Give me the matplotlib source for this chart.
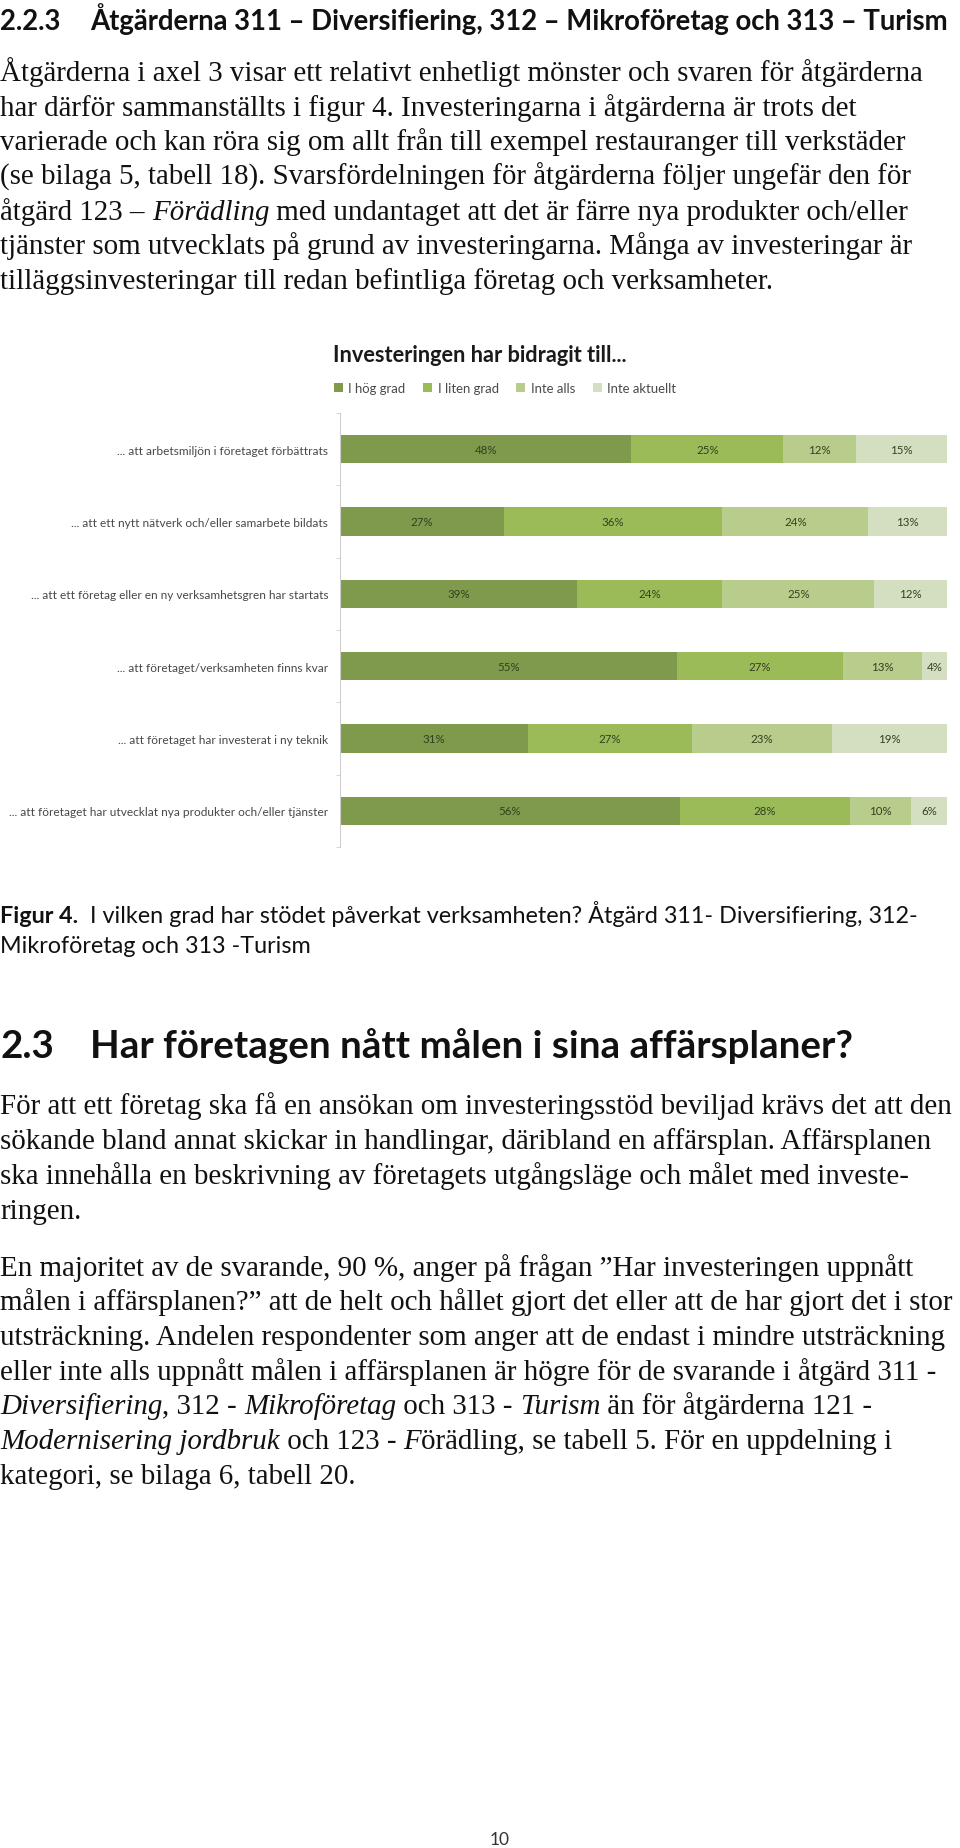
import numpy as np
import matplotlib
matplotlib.use('Agg')
import matplotlib.pyplot as plt

W, H = 960, 1849
DPI = 100
SERIF = ['Liberation Serif', 'DejaVu Serif']
SANS = ['Lato', 'DejaVu Sans']

# --- chart data (figur 4) ---
categories = [
    '... att arbetsmiljön i företaget förbättrats',
    '... att ett nytt nätverk och/eller samarbete bildats',
    '... att ett företag eller en ny verksamhetsgren har startats',
    '... att företaget/verksamheten finns kvar',
    '... att företaget har investerat i ny teknik',
    '... att företaget har utvecklat nya produkter och/eller tjänster',
]
series_names = ['I hög grad', 'I liten grad', 'Inte alls', 'Inte aktuellt']
hog_grad = [48, 27, 39, 55, 31, 56]
liten_grad = [25, 36, 24, 27, 27, 28]
inte_alls = [12, 24, 25, 13, 23, 10]
inte_aktuellt = [15, 13, 12, 4, 19, 6]
colors = ['#7f9a4c', '#9bbb59', '#b8cc8c', '#d3dfc0']
chart_title = 'Investeringen har bidragit till...'

# --- page text ---
heading1 = ('2.2.3', 'Åtgärderna 311 – Diversifiering, 312 – Mikroföretag och 313 – Turism')
para1 = [
    [('Åtgärderna i axel 3 visar ett relativt enhetligt mönster och svaren för åtgärderna', 'n')],
    [('har därför sammanställts i figur 4. Investeringarna i åtgärderna är trots det', 'n')],
    [('varierade och kan röra sig om allt från till exempel restauranger till verkstäder', 'n')],
    [('(se bilaga 5, tabell 18). Svarsfördelningen för åtgärderna följer ungefär den för', 'n')],
    [('åtgärd 123 – ', 'n'), ('Förädling', 'i'),
     (' med undantaget att det är färre nya produkter och/eller', 'n')],
    [('tjänster som utvecklats på grund av investeringarna. Många av investeringar är', 'n')],
    [('tilläggsinvesteringar till redan befintliga företag och verksamheter.', 'n')],
]
para1_y = [72, 107, 141, 176, 211, 245, 280]
caption = [
    [('Figur 4.', 'b'), ('  I vilken grad har stödet påverkat verksamheten? Åtgärd 311- Diversifiering, 312-', 'n')],
    [('Mikroföretag och 313 -Turism', 'n')],
]
caption_y = [915, 945]
heading2 = ('2.3', 'Har företagen nått målen i sina affärsplaner?')
para2 = [
    [('För att ett företag ska få en ansökan om investeringsstöd beviljad krävs det att den', 'n')],
    [('sökande bland annat skickar in handlingar, däribland en affärsplan. Affärsplanen', 'n')],
    [('ska innehålla en beskrivning av företagets utgångsläge och målet med investe-', 'n')],
    [('ringen.', 'n')],
    [('En majoritet av de svarande, 90 %, anger på frågan ”Har investeringen uppnått', 'n')],
    [('målen i affärsplanen?” att de helt och hållet gjort det eller att de har gjort det i stor', 'n')],
    [('utsträckning. Andelen respondenter som anger att de endast i mindre utsträckning', 'n')],
    [('eller inte alls uppnått målen i affärsplanen är högre för de svarande i åtgärd 311 -', 'n')],
    [('Diversifiering', 'i'), (', 312 - ', 'n'), ('Mikroföretag', 'i'), (' och 313 - ', 'n'),
     ('Turism', 'i'), (' än för åtgärderna 121 -', 'n')],
    [('Modernisering jordbruk', 'i'), (' och 123 - ', 'n'), ('F', 'i'),
     ('örädling, se tabell 5. För en uppdelning i', 'n')],
    [('kategori, se bilaga 6, tabell 20.', 'n')],
]
para2_y = [1105, 1140, 1175, 1210, 1267, 1301, 1336, 1371, 1405, 1440, 1475]

fig = plt.figure(figsize=(W / DPI, H / DPI), dpi=DPI, facecolor='white')
page = fig.add_axes([0, 0, 1, 1])
page.set_xlim(0, W)
page.set_ylim(H, 0)
page.axis('off')
renderer = fig.canvas.get_renderer()

STYLE = {'n': {}, 'i': {'fontstyle': 'italic'}, 'b': {'fontweight': 'bold'}}


def width_of(s, **kw):
    t = page.text(0, 0, s, **kw)
    w = t.get_window_extent(renderer).width
    t.remove()
    return w


def run_width(s, **kw):
    # pad with x so leading/trailing spaces count
    return width_of('x' + s + 'x', **kw) - width_of('xx', **kw)


def fit_size(s, target, **kw):
    return 10 * target / width_of(s, fontsize=10, **kw)


def line_width(parts, size, family):
    return sum(run_width(s, fontsize=size, family=family, **STYLE[st]) for s, st in parts)


def put_runs(x, base, parts, size, family, color='black'):
    for s, st in parts:
        kw = dict(fontsize=size, family=family, **STYLE[st])
        page.text(x, base, s, va='baseline', ha='left', color=color, **kw)
        x += run_width(s, **kw)


def px(pt):
    return pt * DPI / 72


# headings
h1_size = fit_size(heading1[1], 861, family=SANS, fontweight='bold')
for s, x in zip(heading1, [0, 90]):
    page.text(x, 20 + 0.36 * px(h1_size), s, fontsize=h1_size, family=SANS,
              fontweight='bold', va='baseline', color='#111111')

# body size: average fit over three measured lines
fits = [(para1[0], 934), (para2[0], 950), (para2[5], 953)]
body_size = np.mean([10 * t / line_width(p, 10, SERIF) for p, t in fits])
for line, yc in zip(para1, para1_y):
    put_runs(0, yc + 0.3 * px(body_size), line, body_size, SERIF, '#111111')

cap_size = 10 * 918 / line_width(caption[0], 10, SANS)
for line, yc in zip(caption, caption_y):
    put_runs(0, yc + 0.36 * px(cap_size), line, cap_size, SANS, '#111111')

h2_size = fit_size(heading2[1], 762, family=SANS, fontweight='bold')
for s, x in zip(heading2, [0, 90]):
    page.text(x, 1044 + 0.36 * px(h2_size), s, fontsize=h2_size, family=SANS,
              fontweight='bold', va='baseline', color='#111111')

for line, yc in zip(para2, para2_y):
    put_runs(0, yc + 0.3 * px(body_size), line, body_size, SERIF, '#111111')

page.text(500, 1840, '10', fontsize=12.5, family=SANS,
          ha='center', va='center', color='#333333')

# --- chart ---
title_size = fit_size(chart_title, 295, family=SANS, fontweight='bold')
page.text(333, 356, chart_title, fontsize=title_size, family=SANS,
          fontweight='bold', va='center', ha='left', color='#1a1a1a')

ax = fig.add_axes([340 / W, 1 - 848 / H, 607 / W, 434 / H])
data = np.array([hog_grad, liten_grad, inte_alls, inte_aktuellt], dtype=float)
share = data / data.sum(axis=0) * 100   # 100 % stacked
ypos = np.arange(len(categories))
left = np.zeros(len(categories))
for i in range(len(series_names)):
    ax.barh(ypos, share[i], left=left, height=0.39, color=colors[i],
            label=series_names[i])
    for j in range(len(categories)):
        ax.text(left[j] + share[i][j] / 2, ypos[j], f'{int(data[i][j])}%',
                ha='center', va='center', fontsize=8.3, family=SANS,
                color='#34401f')
    left += share[i]

ax.set_xlim(0, 100)
ax.set_ylim(len(categories) - 0.5, -0.5)
ax.set_xticks([])
lab_size = fit_size(categories[-1], 318, family=SANS)
ax.set_yticks(ypos)
ax.set_yticklabels(categories, fontsize=lab_size, family=SANS, color='#484848')
ax.set_yticks(np.arange(-0.5, len(categories), 1), minor=True)
ax.tick_params(axis='y', which='major', length=0, pad=8.5)
ax.tick_params(axis='y', which='minor', length=3, color='#cccccc')
for sp in ['top', 'right', 'bottom']:
    ax.spines[sp].set_visible(False)
ax.spines['left'].set_color('#d0d0d0')
ax.set_facecolor('none')

leg_size = fit_size('Inte aktuellt', 69, family=SANS)
fig.legend(loc='center left', bbox_to_anchor=(334 / W, 1 - 389 / H),
           ncol=4, frameon=False,
           prop={'family': SANS, 'size': leg_size},
           handlelength=0.65, handleheight=0.65, handletextpad=0.45,
           columnspacing=1.35, borderpad=0, borderaxespad=0,
           labelcolor='#4a4a4a')

fig.savefig('out.png', dpi=DPI, facecolor='white')
